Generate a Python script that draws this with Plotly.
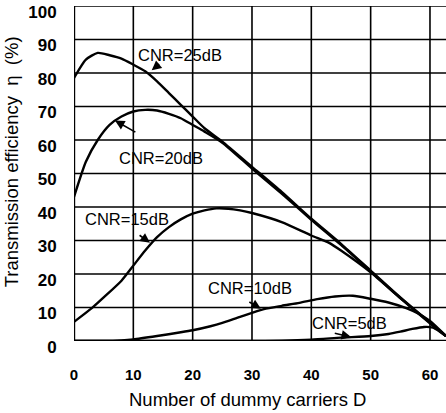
import plotly.graph_objects as go

# ---- data ----
d_25 = [0, 2, 4, 6, 8, 10, 12, 14, 16, 18, 20, 22, 25, 30, 35, 40, 45, 50, 55, 60, 62.7]
eta_25 = [78.5, 84, 86, 85.3, 84.3, 82.5, 80.5, 77.5, 74, 70.5, 67, 63.5, 59.5, 52, 44.5, 36.5, 29, 21, 13, 5.5, 1.5]

d_20 = [0, 2, 4, 6, 8, 10, 12, 14, 16, 18, 20, 22, 25, 30, 35, 40, 45, 50, 55, 60, 62.7]
eta_20 = [43, 53.5, 60, 64.5, 67, 68.5, 69, 68.8, 67.8, 66.5, 64.5, 62.5, 59.2, 51.5, 44, 36.2, 28.7, 20.8, 12.8, 5.3, 1.5]

d_15 = [0, 3, 5, 8, 10, 12, 14, 16, 18, 20, 22, 24, 26, 28, 30, 35, 40, 43, 45, 50, 55, 60, 62.7]
eta_15 = [5.7, 9.8, 13, 18, 22.5, 27, 31, 34, 36.3, 38, 39, 39.6, 39.5, 39, 38.2, 35.5, 31.5, 29.3, 27, 20.5, 12.8, 5.5, 1.5]

d_10 = [0, 5, 8, 10, 14, 18, 20, 23, 25, 28, 32, 35, 38, 41, 44, 47, 50, 53, 56, 58, 60, 62.7]
eta_10 = [0, 0, 0.2, 0.5, 1.5, 2.6, 3.2, 4.4, 5.4, 7.2, 9.5, 10.5, 11.4, 12.5, 13.3, 13.5, 12.6, 11.5, 9.8, 8.2, 6, 1.5]

d_5 = [0, 30, 35, 40, 45, 50, 53, 55, 57, 59, 60.5, 61.5, 62.7]
eta_5 = [0, 0, 0.1, 0.4, 1, 1.5, 2.1, 2.8, 3.6, 4.2, 4, 3, 1.5]

x_ticks = [0, 10, 20, 30, 40, 50, 60]
y_ticks = [0, 10, 20, 30, 40, 50, 60, 70, 80, 90, 100]

labels = ["CNR=25dB", "CNR=20dB", "CNR=15dB", "CNR=10dB", "CNR=5dB"]
label_pos = [(17.9, 85.4), (14.7, 54.6), (8.9, 36.4), (29.7, 15.8), (46.5, 5.4)]
arrow_tail = [(14.6, 83.0), (10.6, 62.1), (10.8, 31.9), (29.3, 11.9), (43.7, 2.4)]
arrow_tip = [(13.1, 80.8), (6.9, 65.8), (12.8, 29.3), (31.5, 9.6), (46.7, 1.2)]

X_MAX = 62.7
Y_MAX = 100

font_family = "Liberation Sans, Arial, sans-serif"

fig = go.Figure()

# grid (built from the tick arrays)
gx, gy = [], []
for xv in x_ticks[1:]:
    gx += [xv, xv, None]
    gy += [0, Y_MAX, None]
for yv in y_ticks[1:]:
    gx += [0, X_MAX, None]
    gy += [yv, yv, None]
fig.add_trace(go.Scatter(x=gx, y=gy, mode="lines", line=dict(color="black", width=1.6),
                         showlegend=False, hoverinfo="skip", connectgaps=False))
# axes lines
fig.add_trace(go.Scatter(x=[0, 0, None, 0, X_MAX], y=[Y_MAX, 0, None, 0, 0], mode="lines",
                         line=dict(color="black", width=2.4),
                         showlegend=False, hoverinfo="skip", connectgaps=False))

for xs, ys in [(d_25, eta_25), (d_20, eta_20), (d_15, eta_15), (d_10, eta_10), (d_5, eta_5)]:
    fig.add_trace(go.Scatter(x=xs, y=ys, mode="lines",
                             line=dict(color="black", width=2.4, shape="spline", smoothing=0.6),
                             showlegend=False, hoverinfo="skip", cliponaxis=False))

for txt, (tx, ty) in zip(labels, label_pos):
    fig.add_annotation(x=tx, y=ty, xref="x", yref="y", text=txt, showarrow=False,
                       font=dict(family=font_family, size=16.5, color="black"))
for (ax_, ay_), (hx, hy) in zip(arrow_tail, arrow_tip):
    fig.add_annotation(x=hx, y=hy, xref="x", yref="y", ax=ax_, ay=ay_, axref="x", ayref="y",
                       text="", showarrow=True, arrowhead=2, arrowsize=1.2, arrowwidth=1.6,
                       arrowcolor="black")

# axis titles
fig.add_annotation(x=0.5, y=-0.175, xref="paper", yref="paper",
                   text="Number of dummy carriers D", showarrow=False,
                   font=dict(family=font_family, size=18.5, color="black"),
                   xanchor="center", yanchor="middle", xshift=-13)
fig.add_annotation(x=-0.168, y=0.535, xref="paper", yref="paper",
                   text="Transmission efficiency  η  (%)", showarrow=False, textangle=-90,
                   font=dict(family=font_family, size=18.5, color="black"),
                   xanchor="center", yanchor="middle")

fig.update_xaxes(range=[0, X_MAX], tickmode="array", tickvals=x_ticks,
                 ticktext=[str(v) for v in x_ticks],
                 showgrid=False, zeroline=False, showline=False,
                 ticks="outside", ticklen=20, tickcolor="rgba(0,0,0,0)",
                 ticklabeloverflow="allow",
                 tickfont=dict(family=font_family, size=15, color="black", weight="bold"))
fig.update_yaxes(range=[0, Y_MAX], tickmode="array", tickvals=y_ticks,
                 ticktext=[str(v) for v in y_ticks],
                 showgrid=False, zeroline=False, showline=False,
                 ticks="outside", ticklen=13, tickcolor="rgba(0,0,0,0)",
                 ticklabelshift=6, ticklabeloverflow="allow",
                 tickfont=dict(family=font_family, size=17, color="black", weight="bold"))

fig.update_layout(width=446, height=413, margin=dict(l=74, r=0, t=6, b=72),
                  plot_bgcolor="white", paper_bgcolor="white")

fig.write_html("out.html", config={"displayModeBar": False},
               post_script="document.body.style.margin='0';document.body.style.overflow='hidden';")
